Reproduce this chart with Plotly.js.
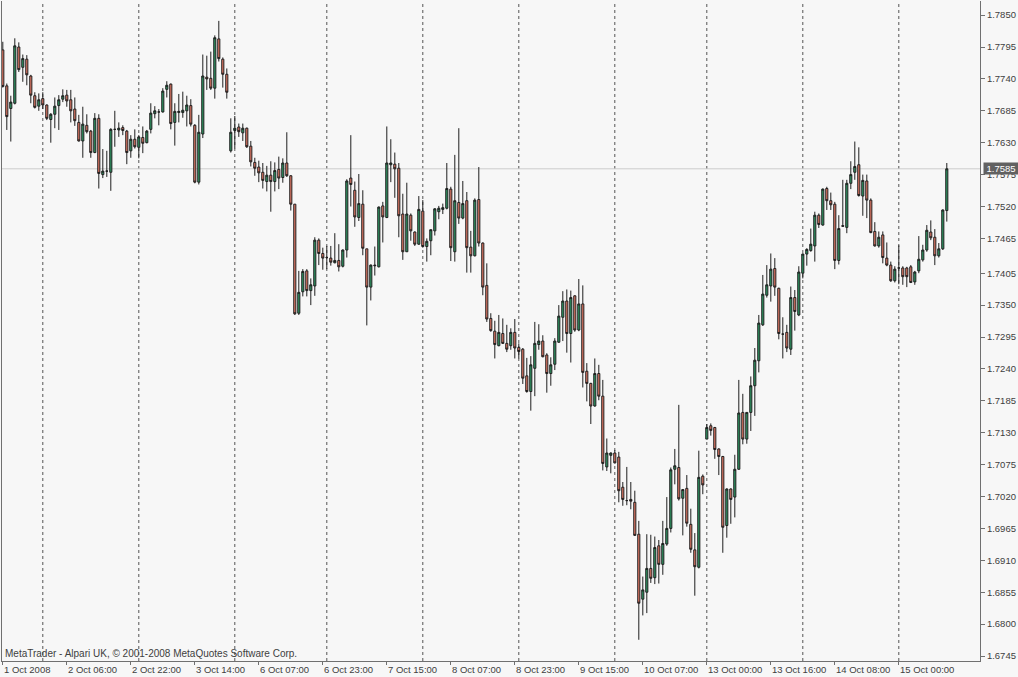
<!DOCTYPE html>
<html>
<head>
<meta charset="utf-8">
<script src="https://cdn.plot.ly/plotly-3.0.1.min.js"></script>
<style>
html,body{margin:0;padding:0;background:#f7f7f7;}
#chart{width:1018px;height:677px;}
</style>
</head>
<body>
<div id="chart"></div>
<script>
// Hourly sessions (date, first hour, last hour)
const sessions = [
  ["2008-10-01",14,23],["2008-10-02",0,23],["2008-10-03",0,23],["2008-10-06",1,23],
  ["2008-10-07",0,23],["2008-10-08",0,23],["2008-10-09",0,23],["2008-10-10",0,22],
  ["2008-10-13",0,23],["2008-10-14",0,23],["2008-10-15",0,12]
];
const times = [];
sessions.forEach(function(s){ for(let h=s[1]; h<=s[2]; h++){ times.push(s[0]+" "+String(h).padStart(2,"0")+":00"); } });

const open = [
1.7790,1.7728,1.7689,1.7698,1.7795,1.7760,1.7774,1.7745,1.7711,1.7693,
1.7706,1.7695,1.7670,1.7679,1.7694,1.7705,1.7712,1.7704,1.7688,1.7665,
1.7633,1.7660,1.7650,1.7613,1.7672,1.7575,1.7581,1.7579,1.7653,1.7652,
1.7656,1.7650,1.7616,1.7636,1.7622,1.7639,1.7630,1.7653,1.7680,1.7683,
1.7683,1.7722,1.7731,1.7665,1.7682,1.7682,1.7685,1.7694,1.7660,1.7562,
1.7645,1.7743,1.7741,1.7724,1.7809,1.7774,1.7748,1.7616,1.7651,1.7657,
1.7647,1.7655,1.7624,1.7596,1.7588,1.7579,1.7563,1.7574,1.7563,1.7584,
1.7570,1.7595,1.7573,1.7524,1.7336,1.7373,1.7409,1.7375,1.7383,1.7462,
1.7439,1.7432,1.7431,1.7423,1.7427,1.7417,1.7445,1.7569,1.7548,1.7501,
1.7524,1.7447,1.7381,1.7419,1.7416,1.7521,1.7501,1.7592,1.7593,1.7586,
1.7507,1.7442,1.7505,1.7476,1.7455,1.7512,1.7451,1.7461,1.7478,1.7511,
1.7515,1.7517,1.7550,1.7442,1.7527,1.7500,1.7530,1.7450,1.7435,1.7532,
1.7457,1.7384,1.7327,1.7305,1.7280,1.7301,1.7284,1.7280,1.7303,1.7277,
1.7274,1.7228,1.7201,1.7241,1.7282,1.7288,1.7264,1.7232,1.7248,1.7286,
1.7329,1.7357,1.7301,1.7366,1.7307,1.7352,1.7236,1.7215,1.7176,1.7232,
1.7193,1.7071,1.7091,1.7095,1.7088,1.7036,1.7013,1.7015,1.7010,1.6955,
1.6843,1.6855,1.6896,1.6880,1.6935,1.6903,1.6938,1.6965,1.7067,1.7070,
1.7017,1.7034,1.6972,1.6928,1.6898,1.7055,1.7119,1.7142,1.7139,1.7102,
1.7089,1.6970,1.7033,1.7019,1.7067,1.7165,1.7119,1.7165,1.7211,1.7254,
1.7316,1.7367,1.7383,1.7413,1.7379,1.7300,1.7303,1.7274,1.7363,1.7333,
1.7405,1.7438,1.7444,1.7452,1.7505,1.7488,1.7551,1.7530,1.7524,1.7427,
1.7487,1.7484,1.7560,1.7579,1.7592,1.7538,1.7564,1.7531,1.7477,1.7452,
1.7471,1.7431,1.7419,1.7392,1.7414,1.7414,1.7414,1.7416,1.7390,1.7409,
1.7428,1.7445,1.7476,1.7467,1.7435,1.7447,1.7513
];
const high = [
1.7804,1.7732,1.7711,1.7810,1.7803,1.7782,1.7781,1.7747,1.7717,1.7715,
1.7717,1.7696,1.7681,1.7708,1.7712,1.7722,1.7721,1.7721,1.7708,1.7678,
1.7692,1.7679,1.7652,1.7681,1.7679,1.7619,1.7616,1.7655,1.7685,1.7665,
1.7660,1.7652,1.7643,1.7653,1.7643,1.7658,1.7652,1.7698,1.7693,1.7688,
1.7724,1.7736,1.7732,1.7698,1.7714,1.7718,1.7711,1.7705,1.7662,1.7678,
1.7782,1.7780,1.7787,1.7815,1.7840,1.7777,1.7758,1.7672,1.7676,1.7663,
1.7663,1.7656,1.7633,1.7604,1.7599,1.7595,1.7590,1.7598,1.7596,1.7606,
1.7603,1.7648,1.7574,1.7524,1.7409,1.7412,1.7412,1.7396,1.7467,1.7465,
1.7449,1.7452,1.7452,1.7474,1.7455,1.7446,1.7567,1.7643,1.7563,1.7576,
1.7548,1.7447,1.7420,1.7451,1.7520,1.7528,1.7658,1.7636,1.7613,1.7595,
1.7542,1.7561,1.7508,1.7477,1.7538,1.7531,1.7465,1.7480,1.7517,1.7521,
1.7525,1.7595,1.7554,1.7609,1.7655,1.7564,1.7545,1.7478,1.7534,1.7588,
1.7458,1.7422,1.7336,1.7323,1.7333,1.7327,1.7316,1.7310,1.7326,1.7284,
1.7276,1.7259,1.7262,1.7321,1.7317,1.7298,1.7267,1.7260,1.7293,1.7350,
1.7374,1.7377,1.7375,1.7367,1.7395,1.7384,1.7250,1.7216,1.7258,1.7247,
1.7221,1.7120,1.7096,1.7100,1.7097,1.7045,1.7071,1.7045,1.7030,1.6978,
1.6882,1.6955,1.6954,1.6951,1.6945,1.6978,1.7019,1.7070,1.7102,1.7178,
1.7033,1.7057,1.6999,1.6957,1.7099,1.7058,1.7145,1.7146,1.7140,1.7103,
1.7090,1.7034,1.7034,1.7092,1.7221,1.7197,1.7165,1.7227,1.7276,1.7333,
1.7402,1.7419,1.7439,1.7431,1.7380,1.7329,1.7316,1.7382,1.7376,1.7417,
1.7439,1.7448,1.7482,1.7511,1.7508,1.7551,1.7554,1.7544,1.7528,1.7505,
1.7566,1.7566,1.7598,1.7632,1.7622,1.7575,1.7575,1.7534,1.7493,1.7477,
1.7477,1.7458,1.7425,1.7417,1.7453,1.7417,1.7416,1.7419,1.7409,1.7469,
1.7454,1.7488,1.7496,1.7481,1.7457,1.7515,1.7595
];
const low = [
1.7725,1.7652,1.7632,1.7696,1.7752,1.7735,1.7729,1.7698,1.7689,1.7685,
1.7688,1.7669,1.7630,1.7655,1.7652,1.7700,1.7692,1.7665,1.7659,1.7632,
1.7604,1.7646,1.7604,1.7612,1.7551,1.7569,1.7571,1.7547,1.7623,1.7640,
1.7643,1.7593,1.7604,1.7620,1.7603,1.7612,1.7629,1.7646,1.7672,1.7660,
1.7682,1.7708,1.7653,1.7625,1.7665,1.7673,1.7658,1.7658,1.7560,1.7558,
1.7638,1.7721,1.7721,1.7706,1.7770,1.7725,1.7706,1.7613,1.7620,1.7640,
1.7633,1.7621,1.7589,1.7573,1.7562,1.7551,1.7546,1.7511,1.7546,1.7550,
1.7561,1.7571,1.7513,1.7333,1.7333,1.7365,1.7365,1.7350,1.7366,1.7419,
1.7411,1.7412,1.7418,1.7422,1.7408,1.7415,1.7432,1.7520,1.7485,1.7495,
1.7436,1.7315,1.7358,1.7401,1.7415,1.7458,1.7500,1.7562,1.7535,1.7467,
1.7428,1.7442,1.7461,1.7452,1.7454,1.7449,1.7425,1.7436,1.7470,1.7498,
1.7507,1.7515,1.7426,1.7425,1.7490,1.7498,1.7406,1.7406,1.7434,1.7451,
1.7367,1.7321,1.7304,1.7258,1.7279,1.7283,1.7269,1.7273,1.7258,1.7258,
1.7214,1.7199,1.7168,1.7193,1.7273,1.7260,1.7199,1.7211,1.7238,1.7285,
1.7288,1.7268,1.7251,1.7304,1.7305,1.7208,1.7184,1.7145,1.7175,1.7186,
1.7065,1.7064,1.7060,1.7077,1.7010,1.7004,1.7005,1.6998,1.6952,1.6773,
1.6815,1.6819,1.6871,1.6869,1.6870,1.6885,1.6935,1.6958,1.7041,1.7013,
1.6953,1.6968,1.6923,1.6849,1.6896,1.7024,1.7119,1.7125,1.7085,1.7057,
1.6923,1.6949,1.6973,1.6984,1.7066,1.7110,1.7111,1.7133,1.7159,1.7234,
1.7314,1.7363,1.7356,1.7366,1.7291,1.7258,1.7269,1.7264,1.7306,1.7331,
1.7396,1.7418,1.7442,1.7425,1.7483,1.7487,1.7514,1.7514,1.7412,1.7420,
1.7485,1.7474,1.7550,1.7566,1.7537,1.7504,1.7500,1.7474,1.7451,1.7449,
1.7422,1.7417,1.7390,1.7389,1.7386,1.7385,1.7381,1.7388,1.7385,1.7405,
1.7425,1.7442,1.7462,1.7419,1.7432,1.7445,1.7494
];
const close = [
1.7727,1.7675,1.7700,1.7797,1.7756,1.7775,1.7747,1.7712,1.7691,1.7704,
1.7695,1.7672,1.7679,1.7693,1.7704,1.7711,1.7702,1.7685,1.7668,1.7633,
1.7662,1.7649,1.7613,1.7672,1.7577,1.7581,1.7581,1.7653,1.7653,1.7655,
1.7651,1.7613,1.7636,1.7623,1.7640,1.7629,1.7650,1.7681,1.7685,1.7683,
1.7719,1.7729,1.7663,1.7684,1.7684,1.7686,1.7695,1.7662,1.7562,1.7648,
1.7745,1.7740,1.7724,1.7811,1.7775,1.7748,1.7717,1.7648,1.7655,1.7649,
1.7655,1.7623,1.7597,1.7586,1.7578,1.7565,1.7574,1.7563,1.7582,1.7569,
1.7595,1.7573,1.7524,1.7335,1.7372,1.7408,1.7375,1.7385,1.7462,1.7439,
1.7431,1.7432,1.7424,1.7427,1.7416,1.7445,1.7564,1.7558,1.7502,1.7525,
1.7448,1.7381,1.7419,1.7418,1.7519,1.7502,1.7595,1.7595,1.7585,1.7504,
1.7442,1.7507,1.7478,1.7455,1.7515,1.7451,1.7460,1.7480,1.7516,1.7517,
1.7518,1.7551,1.7449,1.7530,1.7500,1.7525,1.7449,1.7435,1.7531,1.7457,
1.7381,1.7326,1.7306,1.7282,1.7303,1.7284,1.7274,1.7303,1.7276,1.7270,
1.7224,1.7201,1.7247,1.7284,1.7288,1.7261,1.7232,1.7247,1.7288,1.7331,
1.7357,1.7301,1.7363,1.7307,1.7352,1.7234,1.7215,1.7176,1.7232,1.7193,
1.7077,1.7095,1.7095,1.7078,1.7030,1.7015,1.7013,1.7012,1.6953,1.6836,
1.6859,1.6896,1.6879,1.6932,1.6903,1.6939,1.6965,1.7066,1.7073,1.7016,
1.7032,1.6974,1.6929,1.6899,1.7053,1.7040,1.7139,1.7134,1.7101,1.7089,
1.6967,1.7033,1.7015,1.7067,1.7164,1.7119,1.7165,1.7211,1.7255,1.7319,
1.7369,1.7385,1.7412,1.7381,1.7301,1.7300,1.7276,1.7363,1.7339,1.7407,
1.7438,1.7446,1.7455,1.7505,1.7489,1.7550,1.7530,1.7523,1.7427,1.7482,
1.7486,1.7560,1.7575,1.7589,1.7539,1.7565,1.7531,1.7475,1.7452,1.7467,
1.7432,1.7419,1.7392,1.7412,1.7414,1.7399,1.7399,1.7389,1.7407,1.7429,
1.7445,1.7479,1.7466,1.7435,1.7447,1.7514,1.7585
];

const xTickTimes = ["2008-10-01 14:00","2008-10-02 06:00","2008-10-02 22:00","2008-10-03 14:00",
  "2008-10-06 07:00","2008-10-06 23:00","2008-10-07 15:00","2008-10-08 07:00","2008-10-08 23:00",
  "2008-10-09 15:00","2008-10-10 07:00","2008-10-13 00:00","2008-10-13 16:00","2008-10-14 08:00","2008-10-15 00:00"];
const xTickLabels = ["1 Oct 2008","2 Oct 06:00","2 Oct 22:00","3 Oct 14:00","6 Oct 07:00","6 Oct 23:00",
  "7 Oct 15:00","8 Oct 07:00","8 Oct 23:00","9 Oct 15:00","10 Oct 07:00","13 Oct 00:00","13 Oct 16:00",
  "14 Oct 08:00","15 Oct 00:00"];
const yTickValues = [1.7850,1.7795,1.7740,1.7685,1.7630,1.7575,1.7520,1.7465,1.7405,1.7350,1.7295,
  1.7240,1.7185,1.7130,1.7075,1.7020,1.6965,1.6910,1.6855,1.6800,1.6745];
const yTickLabels = ["1.7850","1.7795","1.7740","1.7685","1.7630","1.7575","1.7520","1.7465","1.7405","1.7350","1.7295",
  "1.7240","1.7185","1.7130","1.7075","1.7020","1.6965","1.6910","1.6855","1.6800","1.6745"];
const daySeparators = ["2008-10-02 00:00","2008-10-03 00:00","2008-10-06 01:00","2008-10-07 00:00",
  "2008-10-08 00:00","2008-10-09 00:00","2008-10-10 00:00","2008-10-13 00:00","2008-10-14 00:00","2008-10-15 00:00"];
const bidPrice = 1.7585;
const bidLabel = "1.7585";
const watermark = "MetaTrader - Alpari UK, \u00A9 2001-2008 MetaQuotes Software Corp.";

const FONT = "'Liberation Sans', Arial, sans-serif";
const TXT = "#404040";
const AX = "#707070";

const trace = {
  type: "candlestick",
  x: times, open: open, high: high, low: low, close: close,
  increasing: {fillcolor: "#2e9a65", line: {color: "#1e1e1e", width: 1}},
  decreasing: {fillcolor: "#eb7d69", line: {color: "#1e1e1e", width: 1}},
  whiskerwidth: 0,
  hoverinfo: "skip",
  showlegend: false
};

const shapes = [];
daySeparators.forEach(function(t){
  const i = times.indexOf(t);
  shapes.push({type:"line", xref:"x", yref:"paper", x0:i, x1:i, y0:0, y1:1, layer:"below",
    line:{color:"#555555", width:1, dash:"3px,3px"}});
});
shapes.push({type:"line", xref:"paper", yref:"y", x0:0, x1:1, y0:bidPrice, y1:bidPrice, layer:"below",
  line:{color:"#cccccc", width:1}});

const annotations = [];
xTickTimes.forEach(function(t, k){
  annotations.push({xref:"x", yref:"paper", x:times.indexOf(t), y:0, xanchor:"left", yanchor:"top",
    yshift:-1, xshift:-1, showarrow:false, text:xTickLabels[k], font:{family:FONT, size:9.5, color:TXT}});
});
annotations.push({xref:"paper", yref:"paper", x:0, y:0, xanchor:"left", yanchor:"bottom", xshift:1, yshift:0,
  showarrow:false, text:watermark, font:{family:FONT, size:10, color:TXT}});
annotations.push({xref:"paper", yref:"y", x:1, y:bidPrice, xanchor:"left", yanchor:"middle", xshift:3,
  showarrow:false, text:bidLabel, bgcolor:"#616161", borderpad:0, width:34, height:11,
  font:{family:FONT, size:9.5, color:"#ffffff"}});

const layout = {
  width: 1018, height: 677,
  margin: {l:2, r:38, t:1, b:16, pad:0},
  paper_bgcolor: "#f7f7f7", plot_bgcolor: "#f7f7f7",
  font: {family: FONT, size: 9.5, color: TXT},
  showlegend: false,
  hovermode: false,
  dragmode: false,
  boxgap: 0.25,
  xaxis: {
    type: "category", range: [-0.2, 244.3], rangeslider: {visible:false},
    tickmode: "array", tickvals: xTickTimes, ticktext: xTickLabels, showticklabels: false,
    ticks: "outside", ticklen: 3, tickcolor: AX, tickwidth: 1,
    showgrid: false, zeroline: false, showline: true, linecolor: AX, linewidth: 1, mirror: false,
    fixedrange: true
  },
  yaxis: {
    side: "right", range: [1.67364, 1.78743],
    tickmode: "array", tickvals: yTickValues, ticktext: yTickLabels,
    ticks: "outside", ticklen: 4, tickcolor: AX, tickwidth: 1,
    tickfont: {family: FONT, size: 9.5, color: TXT},
    showgrid: false, zeroline: false, showline: true, linecolor: AX, linewidth: 1, mirror: true,
    fixedrange: true
  },
  shapes: shapes,
  annotations: annotations
};

Plotly.newPlot("chart", [trace], layout, {displayModeBar:false, staticPlot:true});
</script>
</body>
</html>
